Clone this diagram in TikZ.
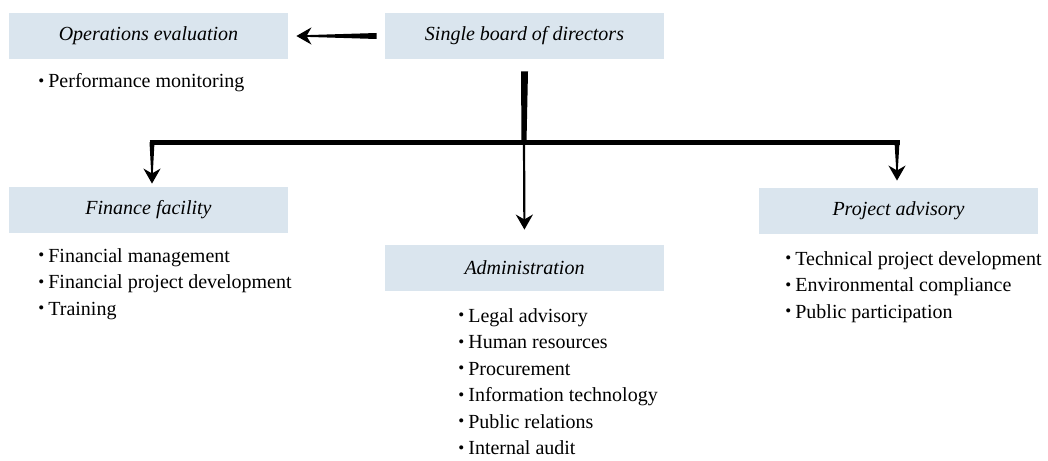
\documentclass[tikz,border=0pt]{standalone}
\usepackage{fontspec}
\setmainfont{Liberation Serif}
\usetikzlibrary{arrows.meta,calc}
\definecolor{boxblue}{HTML}{DAE5EE}
\newcommand{\itm}{\raisebox{0.15ex}{\scalebox{0.85}{\textbullet}}\hspace{0.2em}}
\begin{document}
\begin{tikzpicture}[x=0.5pt,y=-0.5pt,
  unitbox/.style={fill=boxblue,minimum width=139.5pt,minimum height=23pt,inner sep=0pt,font=\fontsize{10}{12}\selectfont\itshape},
  duties/.style={anchor=north west,align=left,inner sep=0pt,font=\fontsize{10}{13.25}\selectfont},
  tip/.style={-{Stealth[length=7.5pt,width=8.5pt]}}]
\useasboundingbox (0,0) rectangle (1048,460);
%
\node[unitbox] (board)    at (524.5,36)  {Single board of directors};
\node[unitbox] (opseval)  at (148.5,36)  {Operations evaluation};
\node[unitbox] (finance)  at (148.5,210) {Finance facility};
\node[unitbox] (admin)    at (524.5,268) {Administration};
\node[unitbox] (advisory) at (898.5,211) {Project advisory};
%
\node[duties] (opslist) at (38,73) {\itm Performance monitoring};
\node[duties] (finlist) at (38,248) {\itm Financial management\\ \itm Financial project development\\ \itm Training};
\node[duties] (admlist) at (458,308) {\itm Legal advisory\\ \itm Human resources\\ \itm Procurement\\ \itm Information technology\\ \itm Public relations\\ \itm Internal audit};
\node[duties] (advlist) at (785,251) {\itm Technical project development\\ \itm Environmental compliance\\ \itm Public participation};
%
\coordinate (bus)  at (524,142);
\coordinate (busL) at (152,142);
\coordinate (busR) at (897,142);
% tapered arrow to the left
\fill ($(board.west)+(-8,-3)$) -- ($(board.west)+(-8,3)$) -- ($(opseval.east)+(22,1)$) -- ($(opseval.east)+(22,-1)$) -- cycle;
\draw[tip,line width=1pt] ($(opseval.east)+(23,0)$) -- ($(opseval.east)+(8,0)$);
% trunk and bus
\fill ($(board.south)+(-3.5,12)$) -- ($(board.south)+(3.5,12)$) -- ($(bus)+(2.5,0)$) -- ($(bus)+(-2.5,0)$) -- cycle;
\draw[line width=2.5pt,line cap=butt] ($(busL)+(-2.5,0)$) -- ($(busR)+(2.5,0)$);
% drops
\fill ($(busL)+(-2.5,0)$) -- ($(busL)+(2.5,0)$) -- ($(busL |- finance.north)+(1,-17)$) -- ($(busL |- finance.north)+(-1,-17)$) -- cycle;
\draw[tip,line width=1pt] ($(busL |- finance.north)+(0,-18)$) -- ($(busL |- finance.north)+(0,-3)$);
\fill ($(busR)+(-2.5,0)$) -- ($(busR)+(2.5,0)$) -- ($(busR |- advisory.north)+(1,-21)$) -- ($(busR |- advisory.north)+(-1,-21)$) -- cycle;
\draw[tip,line width=1pt] ($(busR |- advisory.north)+(0,-22)$) -- ($(busR |- advisory.north)+(0,-7)$);
\draw[tip,line width=1.1pt,shorten >=7.5pt] (bus) -- (admin.north);
\end{tikzpicture}
\end{document}
